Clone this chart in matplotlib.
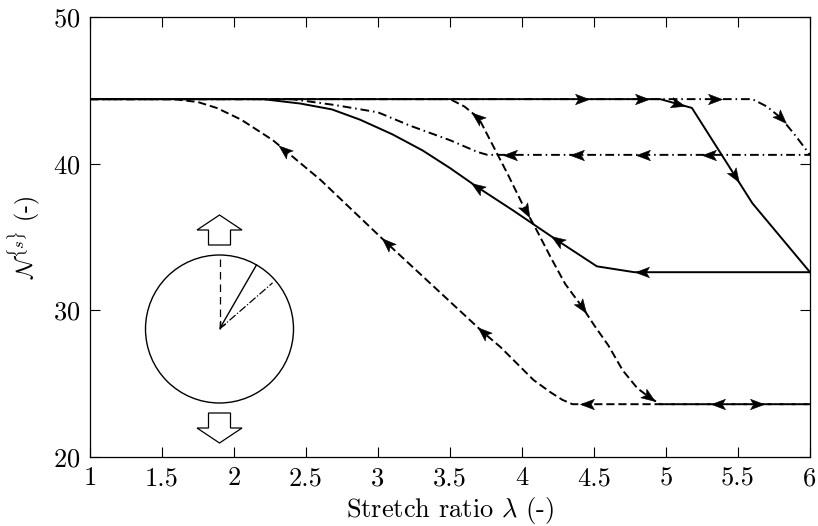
import numpy as np
import matplotlib
matplotlib.use('Agg')
import matplotlib.pyplot as plt
from matplotlib.path import Path
from matplotlib.markers import MarkerStyle
from matplotlib.patches import Circle, FancyArrow

plt.rcParams['font.family'] = 'serif'
plt.rcParams['font.serif'] = ['cmr10']
plt.rcParams['mathtext.fontset'] = 'cm'
plt.rcParams['axes.formatter.use_mathtext'] = True

# --- data ---
# solid curve
lam_solid_load = [1.0, 4.96, 5.18, 5.6, 6.0]
N_solid_load = [44.4, 44.4, 43.8, 37.3, 32.6]
lam_solid_unload = [1.0, 2.2, 2.46, 2.68, 2.875, 3.1, 3.31, 3.5, 3.69, 3.94, 4.24, 4.52, 4.78, 6.0]
N_solid_unload = [44.4, 44.4, 44.1, 43.7, 43.0, 42.0, 40.9, 39.7, 38.4, 36.8, 34.8, 33.0, 32.6, 32.6]
arrows_solid_load = [4.42, 4.83, 5.08, 5.48]
arrows_solid_unload = [3.69, 4.24, 4.83]

# dash-dot curve
lam_dd_load = [1.0, 5.6, 5.7, 5.8, 5.9, 6.0]
N_dd_load = [44.4, 44.4, 43.9, 43.1, 41.9, 40.6]
lam_dd_unload = [1.0, 2.4, 2.7, 3.0, 3.22, 3.5, 3.69, 3.76, 6.0]
N_dd_unload = [44.4, 44.4, 44.0, 43.5, 42.6, 41.6, 40.8, 40.6, 40.6]
arrows_dd_load = [5.34, 5.8]
arrows_dd_unload = [3.92, 4.38, 4.84, 5.3]

# dashed curve
lam_da_load = [1.0, 3.5, 3.6, 3.7, 3.8, 3.9, 4.0, 4.1, 4.2, 4.3, 4.42, 4.5, 4.6, 4.7, 4.8, 4.88, 4.96, 6.0]
N_da_load = [44.4, 44.4, 43.9, 43.1, 41.2, 39.3, 37.3, 35.5, 33.6, 31.8, 30.2, 29.0, 27.6, 25.9, 24.7, 24.1, 23.6, 23.6]
lam_da_unload = [1.0, 1.58, 1.75, 1.88, 2.05, 2.27, 2.6, 3.06, 3.73, 3.85, 4.08, 4.2, 4.28, 4.35, 6.0]
N_da_unload = [44.4, 44.4, 44.2, 43.8, 43.0, 41.6, 38.9, 34.6, 28.5, 27.5, 25.25, 24.4, 23.9, 23.6, 23.6]
arrows_da_load_back = [3.69]
arrows_da_load = [4.03, 4.42, 4.88, 5.63]
arrows_da_unload = [2.35, 3.06, 3.73, 4.45, 5.36]

# fibre directions in the sketch (degrees from the loading axis)
fibre_angles = [0, 30, 49]
fibre_len = [0.96, 1.0, 0.95]
fibre_styles = ['--', '-', '-.']

xticks = [1, 1.5, 2, 2.5, 3, 3.5, 4, 4.5, 5, 5.5, 6]
xticklabels = ['1', '1.5', '2', '2.5', '3', '3.5', '4', '4.5', '5', '5.5', '6']
yticks = [20, 30, 40, 50]

W, H = 818, 526
fig = plt.figure(figsize=(W / 100, H / 100), dpi=100)
ax = fig.add_axes([90 / W, 1 - 457 / H, 720 / W, 440 / H])
ax.set_xlim(1, 6)
ax.set_ylim(20, 50)

lw = 1.4
dash = (0, (4.2, 2))
dashdot = (0, (4.5, 2, 0.8, 2))

ax.plot(lam_solid_load, N_solid_load, color='k', lw=lw, ls='-')
ax.plot(lam_solid_unload, N_solid_unload, color='k', lw=lw, ls='-')
ax.plot(lam_dd_load, N_dd_load, color='k', lw=lw, ls=dashdot)
ax.plot(lam_dd_unload, N_dd_unload, color='k', lw=lw, ls=dashdot)
ax.plot(lam_da_load, N_da_load, color='k', lw=lw, ls=dash)
ax.plot(lam_da_unload, N_da_unload, color='k', lw=lw, ls=dash)

head = Path([(1, 0), (-1, 0.75), (-0.55, 0), (-1, -0.75), (1, 0)],
            [Path.MOVETO, Path.LINETO, Path.LINETO, Path.LINETO, Path.CLOSEPOLY])


def put_arrows(lams, vals, where, sign):
    for l in where:
        y = np.interp(l, lams, vals)
        p0 = ax.transData.transform((l - 0.01, np.interp(l - 0.01, lams, vals)))
        p1 = ax.transData.transform((l + 0.01, np.interp(l + 0.01, lams, vals)))
        ang = np.degrees(np.arctan2(p1[1] - p0[1], p1[0] - p0[0]))
        if sign < 0:
            ang += 180
        m = MarkerStyle(head).rotated(deg=ang)
        ax.plot(l, y, marker=m, color='k', ms=10, mew=0.4, ls='none')


put_arrows(lam_solid_load, N_solid_load, arrows_solid_load, 1)
put_arrows(lam_solid_unload, N_solid_unload, arrows_solid_unload, -1)
put_arrows(lam_dd_load, N_dd_load, arrows_dd_load, 1)
put_arrows(lam_dd_unload, N_dd_unload, arrows_dd_unload, -1)
put_arrows(lam_da_load, N_da_load, arrows_da_load_back, -1)
put_arrows(lam_da_load, N_da_load, arrows_da_load, 1)
put_arrows(lam_da_unload, N_da_unload, arrows_da_unload, -1)

ax.set_xticks(xticks)
ax.set_xticklabels(xticklabels)
ax.set_yticks(yticks)
ax.tick_params(direction='in', top=True, right=True, length=7, width=0.8,
               labelsize=19, pad=7, colors='k')
for s in ax.spines.values():
    s.set_linewidth(0.9)
ax.set_xlabel(r'Stretch ratio $\lambda$ (-)', fontsize=19, labelpad=3)
ax.set_ylabel(r'$\mathcal{N}^{\{s\}}$ (-)', fontsize=17, labelpad=8)

# sketch of the fibre under uniaxial stretch, in pixel units
ax_in = fig.add_axes([140 / W, 1 - 450 / H, 160 / W, 245 / H])
ax_in.set_xlim(140, 300)
ax_in.set_ylim(450, 205)
ax_in.axis('off')
cx, cy, r = 219.5, 329, 74
ax_in.add_patch(Circle((cx, cy), r, fill=False, ec='k', lw=1.0))
for a, f, st in zip(fibre_angles, fibre_len, fibre_styles):
    ex = cx + f * r * np.sin(np.radians(a))
    ey = cy - f * r * np.cos(np.radians(a))
    if st == '-':
        ax_in.annotate('', xy=(cx, cy), xytext=(ex, ey),
                       arrowprops=dict(arrowstyle='->', lw=1.0, color='k',
                                       shrinkA=0, shrinkB=0))
    elif st == '--':
        ax_in.plot([cx, ex], [cy, ey], color='k', lw=0.9, ls=(0, (6, 4)))
    else:
        ax_in.plot([cx, ex], [cy, ey], color='k', lw=0.9, ls=st)
ax_in.add_patch(FancyArrow(cx, 245, 0, -30, width=22, head_width=45, head_length=15,
                           length_includes_head=True, fc='w', ec='k', lw=0.9))
ax_in.add_patch(FancyArrow(cx, 413, 0, 30, width=22, head_width=45, head_length=15,
                           length_includes_head=True, fc='w', ec='k', lw=0.9))

fig.savefig('out.png', dpi=100)
